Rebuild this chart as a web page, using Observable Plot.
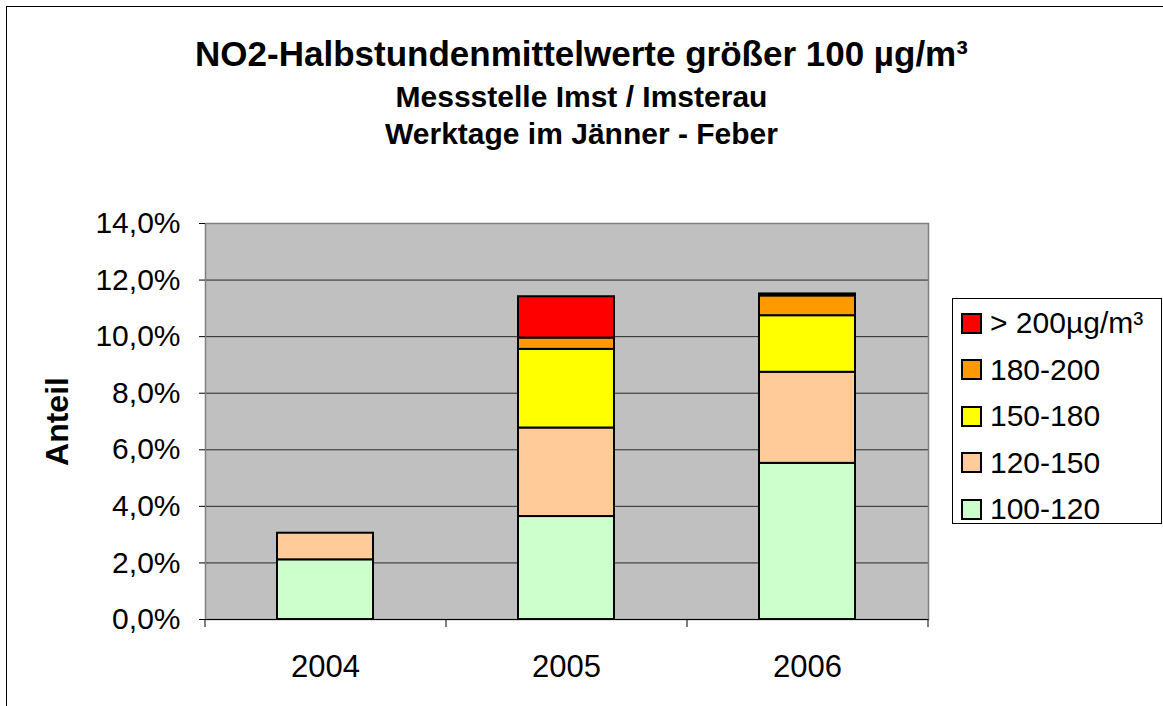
<!DOCTYPE html>
<html>
<head>
<meta charset="utf-8">
<script src="https://cdn.jsdelivr.net/npm/d3@7"></script>
<script src="https://cdn.jsdelivr.net/npm/@observablehq/plot@0.6"></script>
<style>
  html, body { margin: 0; padding: 0; background: #fff; overflow: hidden; }
  #page { position: relative; width: 1163px; height: 706px; font-family: "Liberation Sans", Arial, sans-serif; color: #000; }
  #border { position: absolute; left: 6px; top: 6px; width: 1200px; height: 760px; border-left: 1px solid #000; border-top: 1px solid #000; }
  .t { position: absolute; left: 0; width: 1163px; text-align: center; font-weight: bold; white-space: nowrap; line-height: 1; }
  #chart { position: absolute; left: 0; top: 170px; }
  #legend { position: absolute; left: 952px; top: 298px; width: 210px; height: 226px; border: 1px solid #000; background: #fff; box-sizing: border-box; }
  .row { position: absolute; left: 8px; height: 30px; display: flex; align-items: center; font-size: 30px; line-height: 1; white-space: nowrap; }
  .sw { width: 17px; height: 17px; border: 2px solid #000; margin-right: 8px; flex: none; }
</style>
</head>
<body>
<div id="page">
  <div id="border"></div>
  <div class="t" id="t1" style="top:36px;font-size:35px;"></div>
  <div class="t" id="t2" style="top:82px;font-size:30px;"></div>
  <div class="t" id="t3" style="top:119px;font-size:30px;"></div>
  <div id="chart"></div>
  <div id="legend"></div>
</div>
<script>
// ---- data ----
const titleLines = ["NO2-Halbstundenmittelwerte größer 100 µg/m³", "Messstelle Imst / Imsterau", "Werktage im Jänner - Feber"];
const years = ["2004", "2005", "2006"];
const classes = ["100-120", "120-150", "150-180", "180-200", "> 200µg/m³"];
const classColors = ["#CCFFCC", "#FFCC99", "#FFFF00", "#FF9900", "#FF0000"];
const v100_120 = [2.11, 3.64, 5.52];
const v120_150 = [0.94, 3.13, 3.22];
const v150_180 = [0, 2.78, 2.00];
const v180_200 = [0, 0.40, 0.70];
const vOver200 = [0, 1.46, 0.07];
const yTicks = [0, 2, 4, 6, 8, 10, 12, 14];
const yLabel = "Anteil";

const series = [v100_120, v120_150, v150_180, v180_200, vOver200];
const rows = [];
years.forEach((yr, i) => {
  classes.forEach((c, k) => {
    if (series[k][i] > 0) rows.push({year: yr, cls: c, value: series[k][i]});
  });
});

document.getElementById("t1").textContent = titleLines[0];
document.getElementById("t2").textContent = titleLines[1];
document.getElementById("t3").textContent = titleLines[2];

const W = 1163, mL = 205, mR = 235;
const step = (W - mL - mR) / years.length;
const fmt = d => d.toFixed(1).replace(".", ",") + "%";

const chart = Plot.plot({
  width: W,
  height: 536,
  marginTop: 53,
  marginBottom: 87,
  marginLeft: mL,
  marginRight: mR,
  style: {fontFamily: '"Liberation Sans", Arial, sans-serif', color: "#000", background: "transparent", overflow: "visible"},
  x: {type: "band", domain: years, paddingInner: 0.6, paddingOuter: 0.3},
  y: {domain: [0, 14]},
  color: {domain: classes, range: classColors},
  marks: [
    Plot.frame({fill: "#C0C0C0", stroke: null}),
    Plot.gridY(yTicks.filter(v => v > 0 && v < 14), {stroke: "#000", strokeOpacity: 0.8, strokeWidth: 1}),
    Plot.frame({stroke: "#808080", strokeWidth: 1.5}),
    Plot.barY(rows, {x: "year", y: "value", fill: "cls", stroke: "#000", strokeWidth: 2}),
    Plot.ruleY([0], {stroke: "#000", strokeWidth: 1}),
    Plot.ruleX(years, {x: d => d, dx: -step / 2, y1: 0, y2: 0, insetBottom: -8, stroke: "#000"}),
    Plot.ruleX(years.slice(-1), {x: d => d, dx: step / 2, y1: 0, y2: 0, insetBottom: -8, stroke: "#000"}),
    Plot.axisY({ticks: yTicks, tickSize: 6, tickPadding: 19, tickFormat: fmt, fontSize: 30, label: null}),
    Plot.axisX({tickSize: 0, tickPadding: 35, fontSize: 31, label: null}),
    Plot.text([yLabel], {frameAnchor: "left", textAnchor: "middle", rotate: -90, dx: -148, fontSize: 32, fontWeight: "bold", text: d => d})
  ]
});
document.getElementById("chart").appendChild(chart);

// legend (top entry = highest class)
const legend = document.getElementById("legend");
const legendOrder = classes.slice().reverse();
const legendColors = classColors.slice().reverse();
legendOrder.forEach((c, i) => {
  const r = document.createElement("div");
  r.className = "row";
  r.style.top = (9 + i * 46.5) + "px";
  const s = document.createElement("div");
  s.className = "sw";
  s.style.background = legendColors[i];
  const t = document.createElement("span");
  t.textContent = c;
  r.appendChild(s);
  r.appendChild(t);
  legend.appendChild(r);
});
</script>
</body>
</html>
